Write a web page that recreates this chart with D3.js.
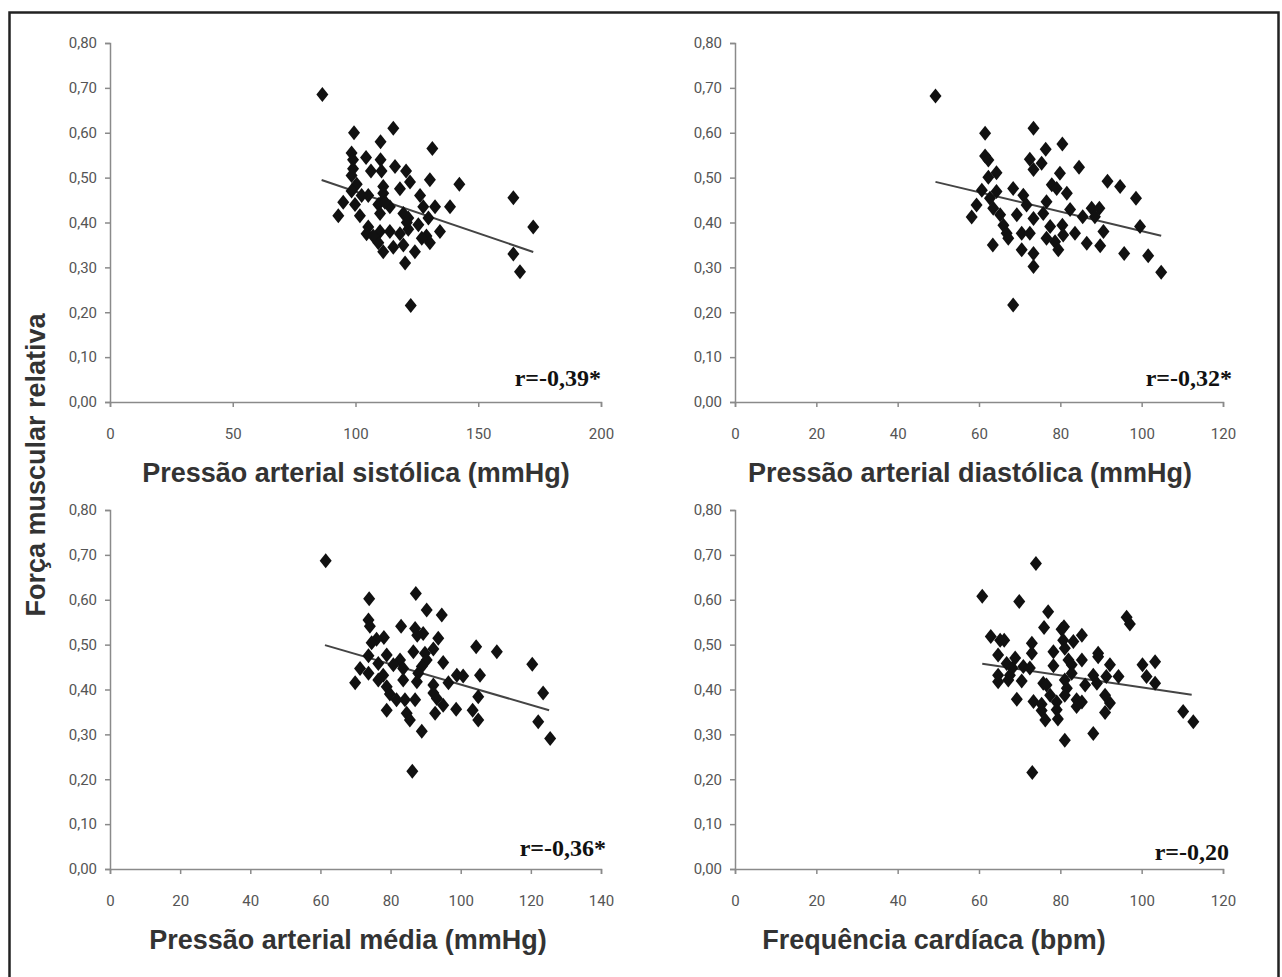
<!DOCTYPE html>
<html>
<head>
<meta charset="utf-8">
<script src="https://cdn.jsdelivr.net/npm/d3@7"></script>
<style>
	body { margin: 0; background: #fff; }
	.axis path, .axis line { stroke: #8a8a8a; stroke-width: 1.5px; }
	.axis text { fill: #555; font-family: "Liberation Sans Narrow", "Roboto", Arial, sans-serif; font-size: 15px; }
	.xtitle, .ytitle { fill: #333; font-family: "Liberation Sans", Arial, sans-serif; font-weight: bold; font-size: 27px; }
	.rlabel { fill: #111; font-family: "Liberation Serif", "Times New Roman", serif; font-weight: bold; font-size: 24px; }
</style>
</head>
<body>
<div id="chart"></div>
<script>

// values: [x, forca relativa]
var sysPoints = [
	[86.5,0.685],[99.4,0.60],[115.4,0.61],[110.2,0.58],[131.3,0.565],[98.4,0.555],[99,0.54],[104.3,0.545],
	[110.2,0.54],[99,0.52],[106.3,0.515],[110.6,0.515],[116.1,0.525],[120.6,0.515],[130.3,0.495],[142.3,0.485],
	[98.4,0.505],[100.5,0.485],[122.2,0.49],[118.1,0.475],[111.3,0.48],[98.4,0.47],[164.3,0.455],[126.3,0.46],
	[105.2,0.46],[102.5,0.46],[95,0.445],[111.3,0.45],[109.3,0.44],[114,0.435],[99.8,0.44],[138.5,0.435],
	[132.4,0.435],[127.6,0.435],[93,0.415],[101.8,0.415],[110,0.42],[119.5,0.42],[121.5,0.41],[129.7,0.41],
	[172.4,0.39],[125.6,0.395],[134.4,0.38],[105.2,0.39],[110,0.38],[114,0.38],[118.1,0.375],[121.5,0.385],
	[104.5,0.375],[128.9,0.37],[109.3,0.355],[115.4,0.345],[119.5,0.35],[130.3,0.355],[111.3,0.335],[124.2,0.335],
	[164.3,0.33],[120.2,0.31],[167,0.29],[122.5,0.215],[111.3,0.465],[112,0.445],[107.2,0.37],[120.9,0.40],[127,0.365]
];

var diaPoints = [
	[49.3,0.682],[61.5,0.599],[73.4,0.61],[80.5,0.575],[76.4,0.563],[61.5,0.548],[62.3,0.539],[72.5,0.541],
	[75.4,0.532],[73.4,0.518],[84.6,0.523],[64.3,0.511],[79.9,0.51],[62.3,0.501],[91.6,0.492],[94.7,0.48],
	[77.9,0.484],[79.1,0.476],[68.4,0.476],[60.7,0.472],[64.3,0.469],[81.6,0.465],[70.9,0.461],[98.6,0.454],
	[62.7,0.454],[76.6,0.446],[59.4,0.439],[71.7,0.439],[63.5,0.432],[82.4,0.429],[87.7,0.432],[89.6,0.432],
	[75.8,0.42],[65.2,0.417],[69.3,0.417],[73.4,0.409],[85.5,0.413],[88.5,0.413],[58.2,0.412],[99.6,0.391],
	[66,0.394],[77.5,0.391],[80.5,0.394],[66.8,0.376],[70.5,0.376],[72.5,0.376],[83.6,0.376],[90.6,0.38],
	[76.6,0.365],[80.7,0.372],[67.2,0.365],[63.4,0.35],[86.5,0.354],[89.8,0.348],[78.7,0.357],[70.5,0.339],
	[73.4,0.331],[79.5,0.339],[95.7,0.331],[101.6,0.326],[73.4,0.302],[104.8,0.289],[68.4,0.216]
];

var medPoints = [
	[61.5,0.687],[73.9,0.602],[87.2,0.614],[90.3,0.577],[94.6,0.566],[73.7,0.555],[74.1,0.541],[83,0.541],
	[87,0.536],[89.3,0.525],[87.6,0.521],[93.6,0.514],[78.1,0.516],[76,0.512],[74.6,0.504],[104.4,0.495],
	[110.3,0.484],[92.2,0.49],[86.5,0.484],[89.8,0.481],[78.9,0.477],[73.7,0.475],[90.3,0.466],[82.7,0.466],
	[95,0.46],[120.4,0.456],[76.5,0.458],[80.8,0.455],[88.9,0.451],[71.3,0.447],[83.6,0.447],[73.7,0.436],
	[87.9,0.436],[105.5,0.432],[77.9,0.432],[98.9,0.432],[100.7,0.43],[69.9,0.415],[76.5,0.421],[83.6,0.421],
	[87.5,0.417],[96.5,0.415],[92.2,0.41],[78.9,0.406],[123.5,0.392],[79.8,0.39],[92.2,0.392],[105,0.384],
	[81.7,0.377],[84.1,0.377],[87,0.377],[93.2,0.38],[95,0.365],[78.9,0.354],[84.6,0.347],[92.7,0.347],
	[98.7,0.356],[103.4,0.354],[105,0.332],[85.5,0.332],[122.1,0.328],[88.9,0.307],[125.5,0.291],[86.2,0.218]
];

var fcPoints = [
	[74,0.681],[60.8,0.608],[69.9,0.596],[77,0.573],[96.3,0.561],[97.1,0.546],[76,0.538],[80.3,0.534],
	[80.9,0.54],[85.3,0.521],[62.9,0.518],[65.2,0.51],[66.2,0.51],[80.7,0.51],[83.2,0.507],[73,0.503],
	[81.1,0.492],[78.3,0.484],[89.3,0.481],[64.7,0.477],[73,0.481],[89.3,0.473],[85.3,0.466],[68.9,0.47],
	[82,0.466],[103.3,0.462],[66.8,0.458],[82.8,0.455],[92.2,0.455],[100.2,0.455],[78.3,0.453],[70.9,0.451],
	[72.5,0.448],[68.2,0.448],[64.7,0.432],[67.6,0.432],[82.8,0.436],[88.1,0.432],[91.3,0.429],[94.3,0.429],
	[101.2,0.429],[64.7,0.417],[67.2,0.421],[70.5,0.419],[75.8,0.414],[81.1,0.421],[86.1,0.41],[89,0.414],
	[103.3,0.414],[76.6,0.41],[81.6,0.403],[69.3,0.378],[73.4,0.373],[77.5,0.387],[81.1,0.387],[84,0.377],
	[85.3,0.372],[91,0.387],[75.4,0.367],[79.1,0.372],[92.2,0.37],[110.2,0.351],[84,0.362],[79.1,0.355],
	[75.4,0.353],[91,0.349],[112.7,0.328],[76.3,0.332],[79.4,0.334],[88.1,0.302],[81.1,0.287],[73.1,0.215]
];

// trend lines: [intercept, slope, xstart, xend]
var sysFit = [0.655, -0.00186, 86.2, 172.4];
var diaFit = [0.597, -0.00216, 49.3, 104.8];
var medFit = [0.638, -0.00227, 61.3, 125.2];
var fcFit = [0.539, -0.00134, 60.8, 112.3];

var yTicks = [0, 0.1, 0.2, 0.3, 0.4, 0.5, 0.6, 0.7, 0.8];
var sysTicks = [0, 50, 100, 150, 200];
var diaTicks = [0, 20, 40, 60, 80, 100, 120];
var medTicks = [0, 20, 40, 60, 80, 100, 120, 140];
var fcTicks = [0, 20, 40, 60, 80, 100, 120];

var titles = ["Pressão arterial sistólica (mmHg)", "Pressão arterial diastólica (mmHg)", "Pressão arterial média (mmHg)", "Frequência cardíaca (bpm)"];
var rLabels = ["r=-0,39*", "r=-0,32*", "r=-0,36*", "r=-0,20"];
var yTitle = "Força muscular relativa";


var svg = d3.select("#chart")
	.append("svg")
		.attr("width", 1282)
		.attr("height", 977);

svg.append("rect")
	.attr("x", 9.5)
	.attr("y", 12.5)
	.attr("width", 1269)
	.attr("height", 1000)
	.attr("fill", "none")
	.attr("stroke", "#222")
	.attr("stroke-width", 2.5);

svg.append("text")
	.attr("class", "ytitle")
	.attr("transform", "translate(45,465) rotate(-90)")
	.attr("text-anchor", "middle")
	.text(yTitle);

var decFmt = function(d) { return d3.format(".2f")(d).replace(".", ","); };


function panel(points, fit, xTicks, left, right, top, bottom, title, titleX, r, rRight, rBase) {

	var xScale = d3.scaleLinear().domain([xTicks[0], xTicks[xTicks.length - 1]]).range([left, right]);
	var yScale = d3.scaleLinear().domain([0, 0.8]).range([bottom, top]);

	var g = svg.append("g");

	g.append("g")
		.attr("class", "x axis")
		.attr("transform", "translate(0," + bottom + ")")
		.call(d3.axisBottom(xScale).tickValues(xTicks).tickSizeInner(5).tickSizeOuter(5).tickPadding(21));

	g.append("g")
		.attr("class", "y axis")
		.attr("transform", "translate(" + left + ",0)")
		.call(d3.axisLeft(yScale).tickValues(yTicks).tickSizeInner(5).tickSizeOuter(5).tickPadding(8).tickFormat(decFmt));

	g.selectAll(".domain").attr("stroke", "#8a8a8a");

	g.append("line")
		.attr("x1", xScale(fit[2]))
		.attr("y1", yScale(fit[0] + fit[1] * fit[2]))
		.attr("x2", xScale(fit[3]))
		.attr("y2", yScale(fit[0] + fit[1] * fit[3]))
		.attr("stroke", "#444")
		.attr("stroke-width", 2);

	g.append("g")
		.selectAll("path")
		.data(points)
		.enter().append("path")
			.attr("d", "M0,-7.5L6,0L0,7.5L-6,0Z")
			.attr("transform", function(d) { return "translate(" + xScale(d[0]) + "," + yScale(d[1]) + ")"; })
			.attr("fill", "#111");

	g.append("text")
		.attr("class", "rlabel")
		.attr("x", rRight)
		.attr("y", rBase)
		.attr("text-anchor", "end")
		.text(r);

	g.append("text")
		.attr("class", "xtitle")
		.attr("x", titleX)
		.attr("y", bottom + 80)
		.attr("text-anchor", "middle")
		.text(title);
}

panel(sysPoints, sysFit, sysTicks, 110, 601, 43, 402, titles[0], 356, rLabels[0], 601, 386);
panel(diaPoints, diaFit, diaTicks, 735, 1223, 43, 402, titles[1], 970, rLabels[1], 1232, 386);
panel(medPoints, medFit, medTicks, 110, 601, 510, 869, titles[2], 348, rLabels[2], 606, 856);
panel(fcPoints, fcFit, fcTicks, 735, 1223, 510, 869, titles[3], 934, rLabels[3], 1229, 860);

</script>
</body>
</html>
